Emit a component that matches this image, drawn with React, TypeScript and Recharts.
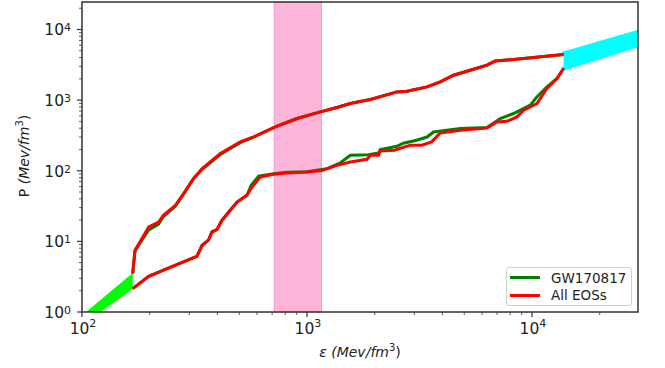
import React from 'react';
import {
  ComposedChart,
  Line,
  Area,
  XAxis,
  YAxis,
  ReferenceArea,
  Legend,
  Label,
} from 'recharts';

// energy density (Mev/fm^3) and pressure (Mev/fm^3)
const upperEps = [168, 172, 185, 198, 219, 230, 260, 283, 313, 342, 412, 505, 579, 723, 903, 1146, 1359, 1557, 1911, 2512, 2783, 3415, 3913, 4483, 5501, 6310, 6869, 8283, 10160, 13820];
const redUpperP = [3.5, 7.5, 11.1, 16.0, 18.8, 23.4, 32.4, 47.5, 77.5, 107, 175, 256, 301, 417, 549, 681, 786, 895, 1020, 1307, 1337, 1538, 1810, 2253, 2740, 3121, 3592, 3760, 4012, 4424];
const greenUpperP = [3.5, 7.3, 10.5, 14.5, 17.5, 22.5, 31.5, 47, 77, 105, 170, 250, 298, 417, 549, 681, 786, 895, 1020, 1307, 1337, 1538, 1810, 2253, 2740, 3121, 3592, 3760, 4012, 4424];

const redLowerEps = [168, 198, 239, 324, 342, 365, 378, 398, 419, 456, 489, 541, 570, 620, 711, 815, 1000, 1164, 1359, 1557, 1848, 1911, 2081, 2117, 2450, 2878, 3240, 3580, 3913, 4801, 6310, 6988, 7743, 8577, 9178, 10520, 11660, 12920, 13820];
const redLowerP = [2.14, 3.2, 4.12, 6.15, 8.81, 10.4, 13.6, 14.7, 19.9, 27.6, 36.1, 45.0, 59.0, 81.7, 89.2, 93.1, 96.2, 101, 119, 133, 145, 166, 166, 191, 195, 230, 230, 256, 343, 375, 404, 491, 502, 578, 719, 895, 1460, 2022, 2803];

const greenLowerEps = [168, 198, 239, 324, 342, 365, 378, 398, 419, 456, 489, 541, 565, 610, 711, 815, 1000, 1227, 1400, 1557, 1878, 2081, 2117, 2512, 2680, 3070, 3415, 3653, 4801, 6310, 7232, 8283, 9826, 10520, 11660, 12920, 13820];
const greenLowerP = [2.14, 3.2, 4.12, 6.15, 8.81, 10.4, 13.6, 14.7, 19.9, 27.6, 36.1, 45, 62, 84, 91, 95, 97, 107, 128, 166, 168, 178, 200, 222, 245, 270, 300, 354, 398, 409, 549, 646, 847, 1110, 1538, 2022, 2830];

// low density crust band and high density (pQCD) band: [eps, low P, high P]
const crustEps = [105, 120, 168];
const crustLow = [1, 1, 2.14];
const crustHigh = [1, 1.43, 3.5];

const pqcdEps = [13820, 29600];
const pqcdLow = [2800, 5990];
const pqcdHigh = [4570, 9250];

// shaded energy density interval
const bandEps = [715, 1160];

const legendNames = ['GW170817', 'All EOSs'];

const xMajor = [100, 1000, 10000];
const xMinor = [200, 300, 400, 500, 600, 700, 800, 900, 2000, 3000, 4000, 5000, 6000, 7000, 8000, 9000, 20000];
const yMajor = [1, 10, 100, 1000, 10000];
const yMinor = [2, 3, 4, 5, 6, 7, 8, 9, 20, 30, 40, 50, 60, 70, 80, 90, 200, 300, 400, 500, 600, 700, 800, 900, 2000, 3000, 4000, 5000, 6000, 7000, 8000, 9000, 20000];

const xDomain = [100, 29600];
const yDomain = [1, 24500];

const toPoints = (xs: number[], ys: number[]) => xs.map((e, i) => ({ e, p: ys[i] }));
const toRange = (xs: number[], lo: number[], hi: number[]) => xs.map((e, i) => ({ e, r: [lo[i], hi[i]] }));

const FONT = 'DejaVu Sans, sans-serif';
const AXIS = '#333';

const XTick = (props: any) => {
  const { x, y, payload } = props;
  const v = payload.value;
  const major = xMajor.includes(v);
  return (
    <g>
      <line x1={x} x2={x} y1={y} y2={y + (major ? 5 : 3)} stroke={AXIS} strokeWidth={major ? 1.2 : 0.8} />
      {major && (
        <text x={x + 1} y={y + 22} textAnchor="middle" fontSize={15.5} fill="#222" fontFamily={FONT}>
          10<tspan fontSize={11} dy={-7}>{Math.round(Math.log10(v))}</tspan>
        </text>
      )}
    </g>
  );
};

const YTick = (props: any) => {
  const { x, y, payload } = props;
  const v = payload.value;
  const major = yMajor.includes(v);
  return (
    <g>
      <line x1={x - (major ? 5 : 3)} x2={x} y1={y} y2={y} stroke={AXIS} strokeWidth={major ? 1.2 : 0.8} />
      {major && (
        <text x={x - 18} y={y + 6} textAnchor="end" fontSize={15.5} fill="#222" fontFamily={FONT}>
          10
        </text>
      )}
      {major && (
        <text x={x - 18} y={y + 2} textAnchor="start" fontSize={11} fill="#222" fontFamily={FONT}>
          {Math.round(Math.log10(v))}
        </text>
      )}
    </g>
  );
};

const YTitle = () => (
  <text transform="translate(29,156) rotate(-90)" textAnchor="middle" fontSize={14} fill="#222" fontFamily={FONT}>
    P <tspan fontStyle="italic">(Mev/fm</tspan>
    <tspan fontSize={10} dy={-6}>3</tspan>
    <tspan dy={6}>)</tspan>
  </text>
);

const XTitle = () => (
  <text x={360} y={357} textAnchor="middle" fontSize={14} fill="#222" fontFamily={FONT}>
    <tspan fontStyle="italic">ε</tspan> <tspan fontStyle="italic">(Mev/fm</tspan>
    <tspan fontSize={10} dy={-6}>3</tspan>
    <tspan dy={6}>)</tspan>
  </text>
);

const LegendBox = ({ payload }: any) => {
  const items = legendNames
    .map((n) => (payload || []).find((p: any) => p.value === n))
    .filter(Boolean);
  return (
    <div
      style={{
        width: 126,
        height: 39,
        background: 'rgba(255,255,255,0.9)',
        border: '1px solid #d0d0d0',
        borderRadius: 3,
        fontFamily: FONT,
        fontSize: 13.5,
        color: '#222',
        boxSizing: 'border-box',
        padding: '1px 0 0 3px',
      }}
    >
      {items.map((item: any) => (
        <div key={item.value} style={{ display: 'flex', alignItems: 'center', height: 17.5 }}>
          <span style={{ display: 'inline-block', width: 30, height: 3, background: item.color, marginRight: 11 }} />
          <span>{item.value}</span>
        </div>
      ))}
    </div>
  );
};

export default function App() {
  return (
    <div style={{ position: 'absolute', left: 0, top: 0, background: '#fff' }}>
      <ComposedChart width={665} height={368} margin={{ top: 2, right: 27, bottom: 0, left: 0 }}>
        <XAxis
          dataKey="e"
          type="number"
          scale="log"
          domain={xDomain}
          allowDataOverflow
          ticks={[...xMajor, ...xMinor]}
          interval={0}
          height={56}
          axisLine={false}
          tickLine={false}
          tickSize={0}
          tickMargin={0}
          tick={<XTick />}
        >
          <Label content={<XTitle />} />
        </XAxis>
        <YAxis
          type="number"
          scale="log"
          domain={yDomain}
          allowDataOverflow
          ticks={[...yMajor, ...yMinor]}
          interval={0}
          width={82}
          axisLine={false}
          tickLine={false}
          tickSize={0}
          tickMargin={0}
          tick={<YTick />}
        >
          <Label content={<YTitle />} />
        </YAxis>
        <Legend
          layout="horizontal"
          verticalAlign="middle"
          align="center"
          wrapperStyle={{ left: 506, top: 267, width: 126 }}
          content={<LegendBox />}
        />
        <ReferenceArea
          x1={bandEps[0]}
          x2={bandEps[1]}
          y1={yDomain[0]}
          y2={yDomain[1]}
          fill="none"
          stroke="#ff69b4"
          strokeOpacity={0.6}
        />
        <Area
          data={toRange(crustEps, crustLow, crustHigh)}
          dataKey="r"
          name="crust"
          type="linear"
          fill="#00ff00"
          fillOpacity={1}
          stroke="#00ff00"
          strokeWidth={1}
          legendType="none"
          isAnimationActive={false}
        />
        <Area
          data={toRange(pqcdEps, pqcdLow, pqcdHigh)}
          dataKey="r"
          name="pqcd"
          type="linear"
          fill="#00ffff"
          fillOpacity={1}
          stroke="#00ffff"
          strokeWidth={4}
          strokeLinecap="round"
          legendType="none"
          isAnimationActive={false}
        />
        <Line data={toPoints(upperEps, greenUpperP)} dataKey="p" name="GW170817" type="linear" stroke="#008000" strokeWidth={3} dot={false} isAnimationActive={false} />
        <Line data={toPoints(greenLowerEps, greenLowerP)} dataKey="p" name="GW170817 low" type="linear" stroke="#008000" strokeWidth={3} dot={false} legendType="none" isAnimationActive={false} />
        <Line data={toPoints(upperEps, redUpperP)} dataKey="p" name="All EOSs" type="linear" stroke="#ff0000" strokeWidth={3} dot={false} isAnimationActive={false} />
        <Line data={toPoints(redLowerEps, redLowerP)} dataKey="p" name="All EOSs low" type="linear" stroke="#ff0000" strokeWidth={3} dot={false} legendType="none" isAnimationActive={false} />
        <Area
          data={toRange(bandEps, [yDomain[0], yDomain[0]], [yDomain[1], yDomain[1]])}
          dataKey="r"
          name="band"
          type="linear"
          fill="#ff69b4"
          fillOpacity={0.5}
          stroke="none"
          legendType="none"
          isAnimationActive={false}
        />
        <ReferenceArea
          x1={xDomain[0]}
          x2={xDomain[1]}
          y1={yDomain[0]}
          y2={yDomain[1]}
          fill="none"
          stroke={AXIS}
          strokeWidth={1.5}
        />
      </ComposedChart>
    </div>
  );
}
